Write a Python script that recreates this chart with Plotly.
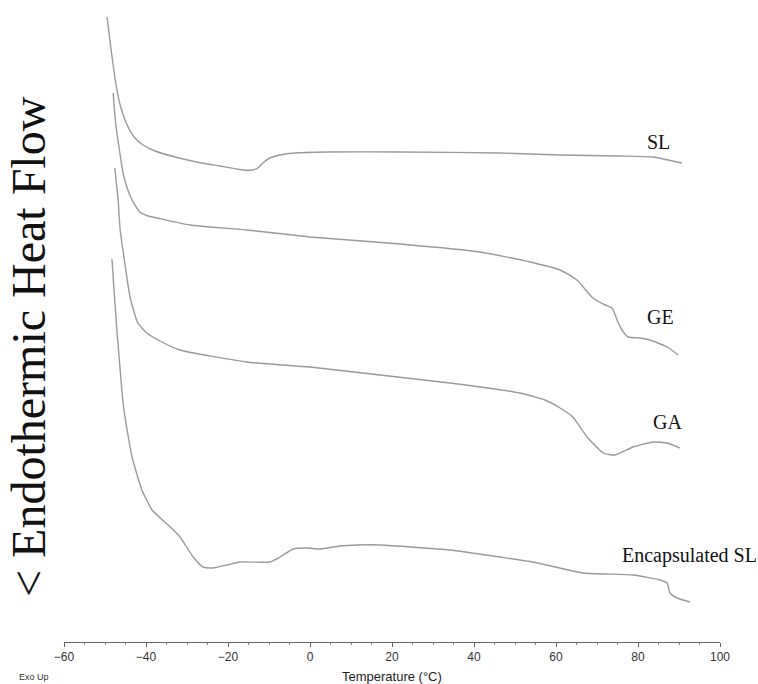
import plotly.graph_objects as go

# DSC thermograms, temperature in °C, heat flow in arbitrary units (exo up)
sl_temp = [-49.5, -48.5, -47.3, -46.1, -44.6, -42.9, -40.7, -37.8, -32.9, -27.6, -22.0, -16.3,
           -14.2, -12.7, -11.5, -9.8, -7.3, -3.7, 4.1, 22.0, 46.3, 61.0, 75.6, 83.7, 87.3, 90.7]
sl_flow = [6.25, 5.92, 5.57, 5.34, 5.17, 5.05, 4.97, 4.91, 4.85, 4.80, 4.76, 4.72,
           4.72, 4.74, 4.79, 4.84, 4.87, 4.89, 4.90, 4.90, 4.89, 4.87, 4.86, 4.85, 4.82, 4.79]

ge_temp = [-48.0, -47.6, -47.1, -46.3, -45.6, -44.6, -43.4, -41.5, -39.5, -37.3, -29.3, -15.4,
           0.0, 22.0, 41.5, 53.7, 61.0, 65.1, 69.0, 72.0, 73.7, 74.9, 76.1, 77.6, 80.5, 82.9, 87.1, 89.8]
ge_flow = [5.49, 5.27, 5.09, 4.87, 4.69, 4.54, 4.42, 4.30, 4.26, 4.24, 4.17, 4.12,
           4.05, 3.98, 3.90, 3.80, 3.72, 3.62, 3.44, 3.37, 3.34, 3.22, 3.12, 3.05, 3.04, 3.02, 2.95, 2.87]

ga_temp = [-47.6, -46.8, -46.3, -45.1, -43.9, -42.0, -39.8, -36.6, -31.7, -15.4, 0.0, 17.1,
           34.1, 51.2, 57.3, 61.0, 64.1, 67.6, 71.5, 74.4, 78.8, 83.7, 87.1, 90.2]
ga_flow = [4.74, 4.42, 4.12, 3.77, 3.45, 3.19, 3.09, 3.01, 2.92, 2.80, 2.75, 2.67,
           2.59, 2.49, 2.42, 2.34, 2.25, 2.05, 1.89, 1.87, 1.95, 2.00, 1.99, 1.94]

enc_temp = [-48.3, -47.8, -47.1, -46.3, -45.6, -44.6, -43.4, -41.0, -38.5, -34.1, -31.7, -28.5,
            -26.1, -23.7, -20.2, -17.1, -9.8, -7.3, -4.1, -0.7, 2.4, 7.3, 11.5, 17.1,
            34.1, 46.3, 54.4, 66.6, 78.8, 85.4, 87.1, 87.8, 89.5, 92.7]
enc_flow = [3.83, 3.52, 3.12, 2.72, 2.39, 2.12, 1.85, 1.52, 1.32, 1.15, 1.05, 0.85,
            0.75, 0.74, 0.77, 0.80, 0.80, 0.85, 0.93, 0.94, 0.93, 0.96, 0.97, 0.97,
            0.92, 0.85, 0.80, 0.69, 0.67, 0.62, 0.59, 0.49, 0.44, 0.40]

x_ticks = [-60, -40, -20, 0, 20, 40, 60, 80, 100]

series = [("SL", sl_temp, sl_flow),
          ("GE", ge_temp, ge_flow),
          ("GA", ga_temp, ga_flow),
          ("Encapsulated SL", enc_temp, enc_flow)]

LINE = "#9a9a9a"
SERIF = "Liberation Serif, Times New Roman, serif"
SANS = "Liberation Sans, Arial, sans-serif"

fig = go.Figure()
for name, t, f in series:
    fig.add_trace(go.Scatter(x=t, y=f, mode="lines", name=name,
                             line=dict(color=LINE, width=1.4, shape="spline", smoothing=0.5),
                             showlegend=False, hoverinfo="skip"))

# curve labels placed at the right end of each trace
label_pos = {"SL": (85.1, 5.00), "GE": (85.6, 3.25), "GA": (87.1, 2.20), "Encapsulated SL": (92.5, 0.87)}
for name, (lx, ly) in label_pos.items():
    fig.add_annotation(x=lx, y=ly, xref="x", yref="y", text=name, showarrow=False,
                       font=dict(family=SERIF, size=20, color="#111"), xanchor="center", yanchor="middle")

fig.add_annotation(x=-0.055, y=0.461, xref="paper", yref="paper", text="< Endothermic Heat Flow",
                   textangle=-90, showarrow=False, xanchor="center", yanchor="middle",
                   font=dict(family=SERIF, size=48, color="#111"))
fig.add_annotation(x=0.5, y=-0.0545, xref="paper", yref="paper", text="Temperature (°C)",
                   showarrow=False, xanchor="center", yanchor="middle",
                   font=dict(family=SANS, size=13, color="#222"))
fig.add_annotation(x=-0.071, y=-0.0545, xref="paper", yref="paper", text="Exo Up",
                   showarrow=False, xanchor="left", yanchor="middle",
                   font=dict(family=SANS, size=9, color="#333"))

fig.update_layout(
    width=758, height=684,
    margin=dict(l=64, r=38, t=0, b=42),
    paper_bgcolor="white", plot_bgcolor="white",
    xaxis=dict(range=[-60, 100], tickvals=x_ticks, showgrid=False, zeroline=False,
               showline=True, linecolor="#666", linewidth=1,
               ticks="outside", ticklen=4, tickcolor="#666", tickwidth=1,
               minor=dict(dtick=5, ticks="outside", ticklen=2, tickcolor="#888"),
               tickfont=dict(family=SANS, size=12, color="#333")),
    yaxis=dict(range=[0, 6.42], visible=False),
)

fig.write_html("out.html")
